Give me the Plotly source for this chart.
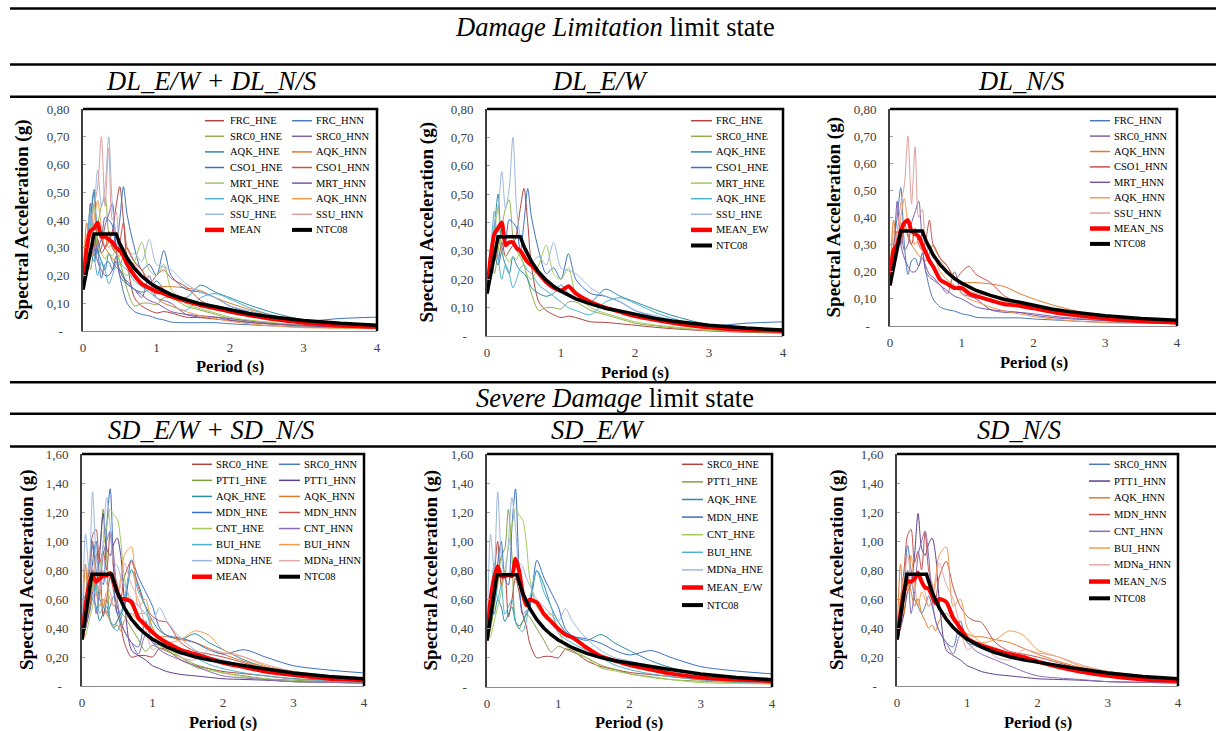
import plotly.graph_objects as go

W, H = 1216, 731
SERIF = "Liberation Serif, Times New Roman, serif"

# ---------------- DATA ----------------
PERIOD = [0, 0.05, 0.1, 0.15, 0.2, 0.25, 0.3, 0.35, 0.4, 0.45,
          0.5, 0.55, 0.6, 0.7, 0.8, 0.9, 1.0, 1.1, 1.2, 1.4,
          1.6, 1.8, 2.0, 2.3, 2.6, 3.0, 3.5, 4.0]

# Damage Limitation records (g)
DL_FRC_HNE = [0.15, 0.22, 0.30, 0.27, 0.33, 0.28, 0.30, 0.32, 0.36, 0.45, 0.52, 0.40, 0.25, 0.12, 0.09, 0.075, 0.065, 0.07, 0.065, 0.05, 0.048, 0.043, 0.038, 0.03, 0.024, 0.018, 0.013, 0.01]
DL_FRC_HNN = [0.15, 0.30, 0.40, 0.51, 0.30, 0.19, 0.24, 0.25, 0.22, 0.27, 0.20, 0.14, 0.10, 0.07, 0.06, 0.055, 0.045, 0.04, 0.032, 0.03, 0.03, 0.03, 0.026, 0.022, 0.018, 0.014, 0.011, 0.009]
DL_SRC0_HNE = [0.15, 0.31, 0.22, 0.30, 0.38, 0.45, 0.48, 0.35, 0.30, 0.28, 0.25, 0.20, 0.15, 0.09, 0.10, 0.10, 0.095, 0.12, 0.12, 0.09, 0.075, 0.06, 0.045, 0.035, 0.027, 0.02, 0.015, 0.012]
DL_SRC0_HNN = [0.15, 0.22, 0.30, 0.35, 0.28, 0.30, 0.38, 0.42, 0.46, 0.30, 0.20, 0.18, 0.17, 0.15, 0.12, 0.20, 0.12, 0.11, 0.10, 0.06, 0.05, 0.05, 0.045, 0.035, 0.028, 0.02, 0.014, 0.01]
DL_AQK_HNE = [0.15, 0.25, 0.38, 0.50, 0.30, 0.25, 0.22, 0.28, 0.25, 0.23, 0.22, 0.20, 0.17, 0.15, 0.14, 0.15, 0.18, 0.15, 0.13, 0.12, 0.165, 0.14, 0.12, 0.09, 0.065, 0.04, 0.025, 0.015]
DL_AQK_HNN = [0.15, 0.39, 0.30, 0.38, 0.36, 0.34, 0.30, 0.28, 0.26, 0.25, 0.24, 0.27, 0.30, 0.25, 0.22, 0.18, 0.16, 0.16, 0.16, 0.155, 0.145, 0.12, 0.10, 0.075, 0.055, 0.03, 0.02, 0.012]
DL_CSO1_HNE = [0.15, 0.20, 0.28, 0.25, 0.30, 0.33, 0.41, 0.40, 0.38, 0.30, 0.40, 0.52, 0.42, 0.30, 0.22, 0.24, 0.20, 0.29, 0.20, 0.15, 0.14, 0.12, 0.09, 0.065, 0.045, 0.035, 0.045, 0.05]
DL_CSO1_HNN = [0.15, 0.28, 0.35, 0.30, 0.38, 0.33, 0.30, 0.36, 0.30, 0.28, 0.32, 0.39, 0.30, 0.25, 0.22, 0.17, 0.20, 0.22, 0.19, 0.16, 0.11, 0.085, 0.07, 0.055, 0.045, 0.03, 0.02, 0.015]
DL_MRT_HNE = [0.15, 0.20, 0.35, 0.46, 0.30, 0.28, 0.26, 0.28, 0.27, 0.30, 0.25, 0.21, 0.20, 0.25, 0.32, 0.22, 0.20, 0.24, 0.15, 0.10, 0.08, 0.065, 0.05, 0.038, 0.03, 0.02, 0.017, 0.015]
DL_MRT_HNN = [0.15, 0.25, 0.46, 0.30, 0.25, 0.22, 0.20, 0.20, 0.22, 0.25, 0.22, 0.19, 0.18, 0.15, 0.13, 0.11, 0.10, 0.085, 0.07, 0.06, 0.055, 0.05, 0.04, 0.03, 0.025, 0.02, 0.013, 0.01]
DL_AQK2_HNE = [0.15, 0.30, 0.44, 0.28, 0.20, 0.25, 0.22, 0.17, 0.20, 0.24, 0.25, 0.23, 0.22, 0.18, 0.16, 0.14, 0.12, 0.10, 0.09, 0.075, 0.12, 0.135, 0.115, 0.08, 0.055, 0.03, 0.02, 0.015]
DL_AQK2_HNN = [0.15, 0.35, 0.30, 0.40, 0.47, 0.38, 0.35, 0.30, 0.32, 0.28, 0.27, 0.30, 0.27, 0.20, 0.17, 0.15, 0.12, 0.10, 0.09, 0.07, 0.055, 0.045, 0.035, 0.025, 0.018, 0.012, 0.01, 0.008]
DL_SSU_HNE = [0.15, 0.28, 0.40, 0.45, 0.58, 0.45, 0.52, 0.70, 0.45, 0.35, 0.30, 0.28, 0.26, 0.28, 0.25, 0.33, 0.24, 0.23, 0.22, 0.17, 0.14, 0.12, 0.09, 0.07, 0.05, 0.03, 0.02, 0.015]
DL_SSU_HNN = [0.15, 0.28, 0.35, 0.45, 0.52, 0.70, 0.45, 0.66, 0.40, 0.43, 0.30, 0.28, 0.25, 0.24, 0.20, 0.17, 0.15, 0.13, 0.12, 0.11, 0.09, 0.08, 0.065, 0.055, 0.045, 0.03, 0.02, 0.015]

DL_MEAN = [0.15, 0.30, 0.36, 0.37, 0.39, 0.34, 0.34, 0.33, 0.32, 0.30, 0.29, 0.27, 0.24, 0.20, 0.17, 0.155, 0.142, 0.135, 0.124, 0.108, 0.093, 0.082, 0.07, 0.055, 0.042, 0.03, 0.02, 0.015]
DL_MEAN_EW = [0.15, 0.28, 0.36, 0.38, 0.40, 0.32, 0.33, 0.33, 0.31, 0.30, 0.28, 0.26, 0.25, 0.22, 0.19, 0.17, 0.16, 0.175, 0.15, 0.12, 0.10, 0.085, 0.07, 0.055, 0.042, 0.03, 0.022, 0.018]
DL_MEAN_NS = [0.15, 0.28, 0.30, 0.35, 0.38, 0.39, 0.35, 0.34, 0.33, 0.30, 0.27, 0.24, 0.22, 0.17, 0.155, 0.14, 0.14, 0.12, 0.11, 0.095, 0.08, 0.075, 0.065, 0.05, 0.04, 0.028, 0.018, 0.012]

NTC_T_DL = [0, 0.15, 0.45, 0.5, 0.6, 0.7, 0.8, 0.9, 1.0, 1.2, 1.4, 1.6, 1.84, 2.0, 2.25, 2.5, 2.75, 3.0, 3.5, 4.0]
NTC_DL = [0.15, 0.35, 0.35, 0.315, 0.263, 0.225, 0.197, 0.175, 0.158, 0.131, 0.113, 0.098, 0.086, 0.077, 0.063, 0.053, 0.045, 0.038, 0.028, 0.021]

# Severe Damage records (g)
SD_SRC0_HNE = [0.32, 0.55, 0.75, 1.00, 0.70, 0.80, 0.48, 0.60, 0.75, 0.65, 0.50, 0.42, 0.30, 0.20, 0.21, 0.21, 0.20, 0.26, 0.25, 0.18, 0.14, 0.12, 0.10, 0.085, 0.07, 0.05, 0.04, 0.03]
SD_SRC0_HNN = [0.32, 0.50, 0.70, 0.97, 0.80, 0.60, 0.55, 0.50, 0.55, 0.62, 0.55, 0.45, 0.38, 0.30, 0.27, 0.45, 0.30, 0.28, 0.26, 0.22, 0.23, 0.20, 0.16, 0.13, 0.10, 0.07, 0.05, 0.04]
SD_PTT1_HNE = [0.32, 0.40, 0.55, 0.70, 0.90, 0.95, 1.22, 0.90, 0.45, 0.40, 0.45, 0.50, 0.48, 0.40, 0.32, 0.24, 0.28, 0.26, 0.24, 0.20, 0.15, 0.12, 0.09, 0.07, 0.05, 0.04, 0.03, 0.025]
SD_PTT1_HNN = [0.32, 0.40, 0.50, 0.65, 0.70, 0.90, 1.19, 0.95, 0.90, 0.98, 1.02, 0.90, 0.60, 0.25, 0.21, 0.18, 0.14, 0.12, 0.10, 0.08, 0.07, 0.06, 0.05, 0.045, 0.04, 0.03, 0.025, 0.02]
SD_AQK_HNE = [0.32, 0.63, 0.50, 0.60, 0.55, 0.45, 0.50, 0.55, 0.45, 0.42, 0.45, 0.50, 0.55, 0.80, 0.70, 0.55, 0.45, 0.38, 0.35, 0.32, 0.36, 0.30, 0.25, 0.18, 0.13, 0.09, 0.06, 0.04]
SD_AQK_HNN = [0.32, 0.84, 0.50, 0.75, 0.65, 0.55, 0.60, 0.50, 0.45, 0.40, 0.42, 0.38, 0.45, 0.50, 0.45, 0.40, 0.36, 0.34, 0.34, 0.32, 0.30, 0.26, 0.22, 0.17, 0.13, 0.10, 0.07, 0.05]
SD_MDN_HNE = [0.32, 0.45, 0.60, 0.85, 1.00, 0.75, 0.70, 1.10, 1.36, 0.80, 0.50, 0.52, 0.55, 0.87, 0.75, 0.65, 0.55, 0.40, 0.35, 0.33, 0.30, 0.25, 0.22, 0.25, 0.20, 0.14, 0.11, 0.09]
SD_MDN_HNN = [0.32, 0.60, 0.80, 1.04, 1.08, 0.85, 0.93, 0.80, 1.06, 0.80, 0.70, 0.60, 0.75, 0.86, 0.68, 0.55, 0.48, 0.45, 0.44, 0.30, 0.24, 0.22, 0.20, 0.16, 0.12, 0.08, 0.05, 0.035]
SD_CNT_HNE = [0.32, 0.35, 0.45, 0.55, 0.65, 0.80, 0.95, 1.10, 1.22, 1.18, 1.15, 1.00, 0.75, 0.55, 0.50, 0.50, 0.40, 0.28, 0.26, 0.20, 0.13, 0.11, 0.09, 0.065, 0.05, 0.03, 0.025, 0.02]
SD_CNT_HNN = [0.32, 0.40, 0.60, 0.80, 0.50, 0.65, 0.90, 1.00, 1.07, 0.90, 0.60, 0.45, 0.38, 0.30, 0.22, 0.35, 0.30, 0.25, 0.22, 0.18, 0.14, 0.10, 0.07, 0.055, 0.045, 0.03, 0.025, 0.02]
SD_BUI_HNE = [0.32, 0.55, 0.85, 0.60, 0.70, 0.50, 0.55, 0.60, 0.45, 0.40, 0.38, 0.45, 0.60, 0.80, 0.65, 0.55, 0.37, 0.33, 0.30, 0.25, 0.20, 0.15, 0.12, 0.09, 0.07, 0.05, 0.035, 0.03]
SD_BUI_HNN = [0.32, 0.60, 0.75, 0.65, 0.90, 0.70, 0.55, 0.65, 0.60, 0.55, 0.60, 0.75, 0.90, 0.96, 0.55, 0.60, 0.40, 0.34, 0.30, 0.32, 0.38, 0.35, 0.25, 0.20, 0.14, 0.10, 0.06, 0.04]
SD_MDNa_HNE = [0.32, 1.05, 0.80, 1.34, 0.90, 0.75, 1.00, 1.30, 1.10, 0.85, 0.83, 0.75, 0.70, 0.60, 0.55, 0.50, 0.45, 0.54, 0.45, 0.33, 0.25, 0.20, 0.18, 0.14, 0.10, 0.07, 0.04, 0.03]
SD_MDNa_HNN = [0.32, 0.50, 0.70, 0.90, 0.75, 0.65, 0.80, 0.70, 0.65, 0.55, 0.60, 0.70, 0.85, 0.70, 0.60, 0.40, 0.25, 0.28, 0.30, 0.20, 0.18, 0.25, 0.23, 0.20, 0.15, 0.10, 0.07, 0.05]

SD_MEAN = [0.32, 0.55, 0.70, 0.76, 0.72, 0.74, 0.76, 0.76, 0.78, 0.72, 0.65, 0.60, 0.60, 0.58, 0.47, 0.42, 0.37, 0.33, 0.30, 0.25, 0.22, 0.19, 0.16, 0.13, 0.10, 0.075, 0.05, 0.04]
SD_MEAN_EW = [0.32, 0.60, 0.75, 0.83, 0.76, 0.76, 0.77, 0.76, 0.88, 0.80, 0.65, 0.56, 0.60, 0.58, 0.50, 0.45, 0.40, 0.36, 0.34, 0.27, 0.21, 0.18, 0.15, 0.12, 0.09, 0.065, 0.05, 0.04]
SD_MEAN_NS = [0.32, 0.50, 0.65, 0.72, 0.72, 0.74, 0.78, 0.72, 0.68, 0.67, 0.62, 0.57, 0.60, 0.58, 0.47, 0.40, 0.33, 0.30, 0.28, 0.25, 0.22, 0.20, 0.17, 0.13, 0.10, 0.07, 0.045, 0.035]

NTC_T_SD = [0, 0.14, 0.42, 0.5, 0.6, 0.7, 0.8, 0.9, 1.0, 1.2, 1.4, 1.6, 1.8, 2.1, 2.5, 3.0, 3.5, 4.0]
NTC_SD = [0.32, 0.77, 0.77, 0.647, 0.539, 0.462, 0.404, 0.359, 0.323, 0.27, 0.231, 0.202, 0.18, 0.155, 0.125, 0.09, 0.066, 0.05]

DL_E_NAMES = ["FRC_HNE", "SRC0_HNE", "AQK_HNE", "CSO1_HNE", "MRT_HNE", "AQK_HNE", "SSU_HNE"]
DL_E_VALUES = [DL_FRC_HNE, DL_SRC0_HNE, DL_AQK_HNE, DL_CSO1_HNE, DL_MRT_HNE, DL_AQK2_HNE, DL_SSU_HNE]
DL_N_NAMES = ["FRC_HNN", "SRC0_HNN", "AQK_HNN", "CSO1_HNN", "MRT_HNN", "AQK_HNN", "SSU_HNN"]
DL_N_VALUES = [DL_FRC_HNN, DL_SRC0_HNN, DL_AQK_HNN, DL_CSO1_HNN, DL_MRT_HNN, DL_AQK2_HNN, DL_SSU_HNN]
SD_E_NAMES = ["SRC0_HNE", "PTT1_HNE", "AQK_HNE", "MDN_HNE", "CNT_HNE", "BUI_HNE", "MDNa_HNE"]
SD_E_VALUES = [SD_SRC0_HNE, SD_PTT1_HNE, SD_AQK_HNE, SD_MDN_HNE, SD_CNT_HNE, SD_BUI_HNE, SD_MDNa_HNE]
SD_N_NAMES = ["SRC0_HNN", "PTT1_HNN", "AQK_HNN", "MDN_HNN", "CNT_HNN", "BUI_HNN", "MDNa_HNN"]
SD_N_VALUES = [SD_SRC0_HNN, SD_PTT1_HNN, SD_AQK_HNN, SD_MDN_HNN, SD_CNT_HNN, SD_BUI_HNN, SD_MDNa_HNN]

PERIOD_TICKS = [0, 1, 2, 3, 4]
PERIOD_TICK_LABELS = ["0", "1", "2", "3", "4"]
DL_YTICKS = [0, 0.1, 0.2, 0.3, 0.4, 0.5, 0.6, 0.7, 0.8]
DL_YTICK_LABELS = ["-\u00a0\u00a0", "0,10", "0,20", "0,30", "0,40", "0,50", "0,60", "0,70", "0,80"]
SD_YTICKS = [0, 0.2, 0.4, 0.6, 0.8, 1.0, 1.2, 1.4, 1.6]
SD_YTICK_LABELS = ["-\u00a0\u00a0", "0,20", "0,40", "0,60", "0,80", "1,00", "1,20", "1,40", "1,60"]

# ---------------- STYLE ----------------
DL_E_COLORS = ["#B0423F", "#8FB04C", "#2C8BA5", "#3B6FC2", "#A3C95B", "#4FB3CF", "#9DB8DD"]
DL_N_COLORS = ["#4A79B8", "#7E62A6", "#E07B2E", "#C6504C", "#7A55A8", "#F59B4F", "#DFA09E"]
SD_E_COLORS = ["#B0423F", "#7FA040", "#2C8BA5", "#3B6FC2", "#A3C95B", "#4FB3CF", "#9DB8DD"]
SD_N_COLORS = ["#4A79B8", "#5E3F8C", "#E07B2E", "#C6504C", "#8A6BB5", "#F59B4F", "#E3AAA8"]

for arr in DL_E_VALUES + DL_N_VALUES + SD_E_VALUES + SD_N_VALUES + [DL_MEAN, DL_MEAN_EW, DL_MEAN_NS, SD_MEAN, SD_MEAN_EW, SD_MEAN_NS]:
    assert len(arr) == len(PERIOD), len(arr)


def X(px):
    return px / W


def Y(py):
    return 1 - py / H


fig = go.Figure()
shapes = []
annotations = []


def interleave(a, b):
    out = []
    for u, v in zip(a, b):
        out += [u, v]
    return out


panels = [
    dict(box=(83, 377, 109, 331), yt=(DL_YTICKS, DL_YTICK_LABELS, 0.8),
         recs=interleave(list(zip(DL_E_NAMES, DL_E_VALUES, DL_E_COLORS)), list(zip(DL_N_NAMES, DL_N_VALUES, DL_N_COLORS))),
         mean=("MEAN", DL_MEAN), ntc=(NTC_T_DL, NTC_DL),
         leg=dict(cols=[(205, 224, 228), (292, 312, 314)], y0=120.7, dy=15.6),
         ytx=22, pty=367),
    dict(box=(487, 783, 109, 336), yt=(DL_YTICKS, DL_YTICK_LABELS, 0.8),
         recs=list(zip(DL_E_NAMES, DL_E_VALUES, DL_E_COLORS)),
         mean=("MEAN_EW", DL_MEAN_EW), ntc=(NTC_T_DL, NTC_DL),
         leg=dict(cols=[(691, 712, 714)], y0=120.7, dy=15.6),
         ytx=426, pty=372),
    dict(box=(890, 1177, 109, 326), yt=(DL_YTICKS, DL_YTICK_LABELS, 0.8),
         recs=list(zip(DL_N_NAMES, DL_N_VALUES, DL_N_COLORS)),
         mean=("MEAN_NS", DL_MEAN_NS), ntc=(NTC_T_DL, NTC_DL),
         leg=dict(cols=[(1090, 1110, 1112)], y0=120.7, dy=15.4),
         ytx=833, pty=362),
    dict(box=(82, 364, 454, 686), yt=(SD_YTICKS, SD_YTICK_LABELS, 1.6),
         recs=interleave(list(zip(SD_E_NAMES, SD_E_VALUES, SD_E_COLORS)), list(zip(SD_N_NAMES, SD_N_VALUES, SD_N_COLORS))),
         mean=("MEAN", SD_MEAN), ntc=(NTC_T_SD, NTC_SD),
         leg=dict(cols=[(192, 212, 214), (279, 300, 302)], y0=464.3, dy=16.06),
         ytx=27, pty=722),
    dict(box=(487, 772, 454, 687), yt=(SD_YTICKS, SD_YTICK_LABELS, 1.6),
         recs=list(zip(SD_E_NAMES, SD_E_VALUES, SD_E_COLORS)),
         mean=("MEAN_E/W", SD_MEAN_EW), ntc=(NTC_T_SD, NTC_SD),
         leg=dict(cols=[(682, 703, 705)], y0=464.3, dy=17.6),
         ytx=430, pty=722),
    dict(box=(897, 1178, 454, 686), yt=(SD_YTICKS, SD_YTICK_LABELS, 1.6),
         recs=list(zip(SD_N_NAMES, SD_N_VALUES, SD_N_COLORS)),
         mean=("MEAN_N/S", SD_MEAN_NS), ntc=(NTC_T_SD, NTC_SD),
         leg=dict(cols=[(1089, 1110, 1112)], y0=464.3, dy=16.75),
         ytx=837, pty=722),
]

layout_axes = {}
for i, p in enumerate(panels, 1):
    x0, x1, y0, y1 = p["box"]
    xs = "" if i == 1 else str(i)
    xref, yref = "x" + xs, "y" + xs
    tickvals, ticktext, ymax = p["yt"]
    layout_axes["xaxis" + xs] = dict(
        domain=[X(x0), X(x1)], anchor=yref, range=[0, 4],
        tickvals=PERIOD_TICKS, ticktext=PERIOD_TICK_LABELS,
        showgrid=False, zeroline=False, showline=True, linecolor="#8c8c8c", linewidth=1,
        ticks="", tickfont=dict(family=SERIF, size=13, color="#404040"),
        ticklabelstandoff=4, automargin=False,
    )
    layout_axes["yaxis" + xs] = dict(
        domain=[Y(y1), Y(y0)], anchor=xref, range=[0, ymax],
        tickvals=tickvals, ticktext=ticktext,
        showgrid=False, zeroline=False, showline=True, linecolor="#404040", linewidth=2,
        ticks="inside", ticklen=3, tickcolor="#a0a0a0",
        tickfont=dict(family=SERIF, size=13, color="#404040"),
        ticklabelstandoff=9, automargin=False,
    )
    for name, vals, col in p["recs"]:
        fig.add_trace(go.Scatter(x=PERIOD, y=vals, mode="lines", name=name, xaxis=xref, yaxis=yref,
                                 line=dict(color=col, width=1, shape="spline", smoothing=0.8),
                                 showlegend=False, hoverinfo="skip"))
    mname, mvals = p["mean"]
    fig.add_trace(go.Scatter(x=PERIOD, y=mvals, mode="lines", name=mname, xaxis=xref, yaxis=yref,
                             line=dict(color="#FF0000", width=4, shape="spline", smoothing=0.6),
                             showlegend=False, hoverinfo="skip"))
    nt, nv = p["ntc"]
    fig.add_trace(go.Scatter(x=nt, y=nv, mode="lines", name="NTC08", xaxis=xref, yaxis=yref,
                             line=dict(color="#000000", width=3.5),
                             showlegend=False, hoverinfo="skip"))
    shapes.append(dict(type="line", xref="paper", yref="paper", x0=X(x0), x1=X(x1) + 0.001, y0=Y(y0), y1=Y(y0),
                       line=dict(color="black", width=2.5)))
    shapes.append(dict(type="line", xref="paper", yref="paper", x0=X(x1), x1=X(x1), y0=Y(y0), y1=Y(y1),
                       line=dict(color="black", width=2.5)))
    entries = [(n, c, 1.5) for n, _, c in p["recs"]] + [(mname, "#FF0000", 4.5), ("NTC08", "#000000", 4)]
    cols = p["leg"]["cols"]
    nc = len(cols)
    for k, (n, c, w) in enumerate(entries):
        r, cc = divmod(k, nc)
        l0, l1, t0 = cols[cc]
        yy = p["leg"]["y0"] + r * p["leg"]["dy"]
        shapes.append(dict(type="line", xref="paper", yref="paper", x0=X(l0), x1=X(l1), y0=Y(yy), y1=Y(yy),
                           line=dict(color=c, width=w)))
        annotations.append(dict(xref="paper", yref="paper", x=X(t0), y=Y(yy), text=n, showarrow=False,
                                xanchor="left", yanchor="middle", font=dict(family=SERIF, size=10.5, color="black")))
    annotations.append(dict(xref="paper", yref="paper", x=X(p["ytx"]), y=Y((y0 + y1) / 2),
                            text="<b>Spectral Acceleration (g)</b>", textangle=-90, showarrow=False,
                            xanchor="center", yanchor="middle", font=dict(family=SERIF, size=19, color="black")))
    annotations.append(dict(xref="paper", yref="paper", x=X((x0 + x1) / 2), y=Y(p["pty"]),
                            text="<b>Period (s)</b>", showarrow=False,
                            xanchor="center", yanchor="middle", font=dict(family=SERIF, size=16.5, color="black")))

for yy in [8.5, 64.5, 96.7, 382.3, 413.8, 446.5]:
    shapes.append(dict(type="line", xref="paper", yref="paper", x0=X(10), x1=1, y0=Y(yy), y1=Y(yy),
                       line=dict(color="black", width=2.5)))

HEAD = 26.5
heads = [
    dict(x=X(615), y=Y(27), text="<i>Damage Limitation</i> limit state"),
    dict(x=X(211), y=Y(81), text="<i>DL_E/W + DL_N/S</i>"),
    dict(x=X(600), y=Y(81), text="<i>DL_E/W</i>"),
    dict(x=X(1021), y=Y(81), text="<i>DL_N/S</i>"),
    dict(x=X(615), y=Y(398), text="<i>Severe Damage</i> limit state"),
    dict(x=X(211), y=Y(430), text="<i>SD_E/W + SD_N/S</i>"),
    dict(x=X(598), y=Y(430), text="<i>SD_E/W</i>"),
    dict(x=X(1019), y=Y(430), text="<i>SD_N/S</i>"),
]
for a in heads:
    a.update(xref="paper", yref="paper", showarrow=False, xanchor="center", yanchor="middle",
             font=dict(family=SERIF, size=HEAD, color="black"))
annotations += heads

fig.update_layout(
    width=W, height=H, autosize=False,
    margin=dict(l=0, r=0, t=0, b=0, pad=0, autoexpand=False),
    paper_bgcolor="white", plot_bgcolor="white",
    showlegend=False, shapes=shapes, annotations=annotations,
    **layout_axes,
)

fig.write_html("out.html", config={"displayModeBar": False, "responsive": False},
               post_script="document.body.style.margin='0';document.body.style.padding='0';document.body.style.overflow='hidden';")
